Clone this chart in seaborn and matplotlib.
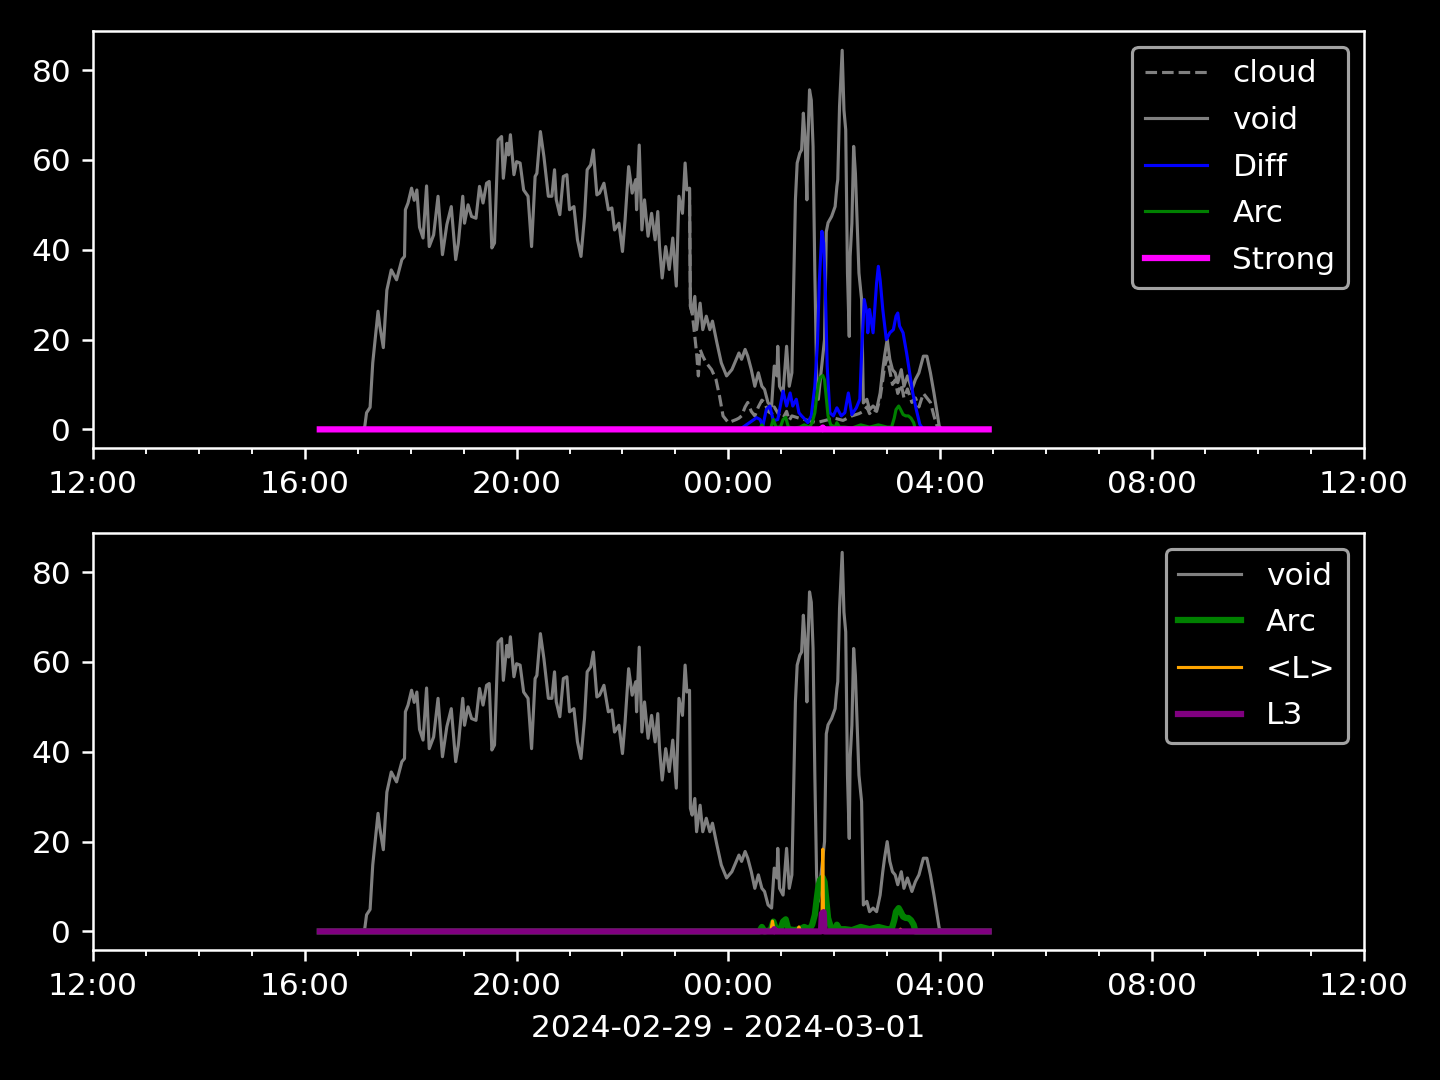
import numpy as np
import pandas as pd
import matplotlib
matplotlib.use("Agg")
import matplotlib.pyplot as plt
import matplotlib.dates as mdates
import seaborn as sns

# ---------------- data (minutes after 2024-02-29 12:00) ----------------
void_min = [257, 306, 308, 310, 314, 317, 323, 325, 329, 333, 338, 344, 350, 353, 354, 357, 361, 364, 367,
            370, 374, 378, 381, 386, 391, 396, 401, 406, 411, 414, 419, 421, 425, 429, 434, 438, 442, 446,
            449, 452, 455, 459, 463, 465, 469, 471, 473, 477, 480, 484, 488, 493, 497, 501, 503, 507, 511,
            516, 520, 523, 525, 529, 533, 537, 540, 545, 549, 553, 557, 560, 564, 567, 571, 574, 579, 584,
            588, 591, 596, 600, 603, 607, 611, 615, 616, 619, 622, 625, 629, 633, 637, 640, 642, 645, 649,
            653, 657, 661, 664, 668, 671, 673, 676, 677, 679, 682, 684, 688, 691, 695, 699, 702, 707, 712,
            718, 724, 729, 732, 735, 739, 742, 746, 750, 754, 758, 761, 765, 769, 772, 775, 776, 778, 782,
            786, 789, 792, 795, 796, 798, 801, 803, 805, 807, 809, 810, 812, 814, 816, 818, 820, 822, 825,
            829, 831, 833, 837, 841, 843, 844, 846, 849, 851, 853, 855, 857, 858, 860, 862, 864, 866, 868, 871,
            873, 877, 880, 884, 888, 892, 895, 897, 900, 903, 906, 909, 912, 916, 919, 923, 928, 932, 936,
            941, 945, 949, 953, 956, 959, 962, 1015]
void_val = [0, 0, 0.7, 3.7, 4.9, 14.8, 26.3, 23, 18.2, 31, 35.5, 33.3, 37.8, 38.5, 48.9, 50.4, 53.7, 51, 53.3,
            45, 42.6, 54.2, 40.7, 43.3, 51.9, 38.9, 45.6, 49.6, 37.8, 41.5, 51.9, 45.9, 50, 47.4, 47, 54.1, 50.4, 54.8,
            55.2, 40.4, 41.5, 64.4, 65.2, 55.9, 63.7, 61.1, 65.6, 56.7, 59.6, 59.3, 53.3, 51.9, 40.7, 56.3, 57, 66.3, 60.7,
            51.9, 51.9, 57.8, 51.1, 47.8, 56.3, 56.7, 48.9, 49.6, 42.2, 38.5, 47.4, 57.8, 58.9, 62.2, 52.2, 52.6, 54.8, 48.9,
            49.3, 44.4, 45.9, 39.6, 46.7, 58.5, 52.6, 55.6, 48.9, 63.3, 44.4, 51.1, 43, 48.1, 42.2, 48.5, 40.7, 33.7, 40.7,
            35.6, 42.6, 31.9, 51.9, 48.1, 59.3, 53.3, 53.7, 27.4, 25.9, 29.6, 22.2, 28.1, 22.2, 25.2, 22.2, 24.1, 19.3, 14.8,
            11.9, 13.3, 15.6, 17, 15.6, 17.8, 16.3, 13.3, 9.6, 12.6, 9.6, 8.9, 5.9, 5.2, 14.1, 11.9, 18.5, 9.6, 8.1,
            18.5, 9.6, 12.6, 42.2, 51.1, 59.3, 61.5, 62.2, 70.4, 64.4, 51.1, 63, 75.6, 73.3, 63, 34.9, 12.6, 6.7, 12.6,
            20, 44, 46, 47.4, 49.6, 54.1, 55.6, 71.9, 84.4, 71.1, 66.7, 34.8, 20.7, 38.5, 45.9, 63, 57, 45.9, 34.8, 28.9,
            5.9, 6.7, 4.4, 5.2, 4.4, 8.1, 13.3, 16.3, 20, 15.6, 13.3, 12.6, 10.4, 13.3, 9.6, 11.9, 8.9, 11.1, 12.6,
            16.3, 16.3, 12.6, 8.1, 4.4, 0.7, 0, 0]

cloud_min = [676, 677, 679, 682, 684, 686, 688, 691, 695, 701, 706, 710, 714, 720, 729, 732, 735, 739, 742,
             746, 750, 754, 758, 761, 765, 769, 772, 775, 778, 782, 786, 789, 792, 800, 810, 820, 830, 840,
             850, 860, 868, 873, 877, 880, 884, 888, 892, 895, 897, 900, 903, 906, 909, 912, 916, 919, 923,
             928, 932, 936, 941, 945, 949, 953, 956, 959, 962, 1015]
cloud_val = [53.7, 27.4, 25.9, 20.7, 17, 11.9, 17.8, 16.3, 14.8, 13.3, 11.1, 7.4, 3, 1.5, 2.2, 2.5, 3, 5, 6,
             4, 3, 5, 6.5, 6, 4, 3.5, 5, 4, 3, 2.5, 4, 2, 3, 2.5, 2, 1.5, 2, 2.5,
             2, 3, 3.5, 4, 5, 3.5, 4.5, 4, 7, 11, 14, 16, 13, 10, 11, 8, 10, 7, 9,
             6, 7, 5, 8, 7, 6, 3, 1, 0.3, 0, 0]

diff_min = [257, 733, 752, 756, 759, 763, 767, 771, 776, 782, 786, 790, 793, 797, 800, 803, 807, 810, 814,
            818, 821, 823, 826, 828, 830, 832, 835, 839, 843, 848, 852, 856, 860, 865, 869, 871, 874, 877,
            878, 880, 884, 888, 890, 892, 895, 899, 903, 907, 910, 912, 914, 918, 922, 926, 929, 933, 937,
            941, 1015]
diff_val = [0, 0, 2.6, 2.2, 0.7, 4.4, 5.2, 1.9, 2.2, 8.5, 5.2, 8.1, 5.2, 6.7, 3.7, 3, 2.2, 1.5, 3,
            9.6, 19.3, 32.6, 44.1, 41.5, 30.4, 14.1, 3.7, 3, 4.8, 3, 3.7, 8.1, 3.3, 4.8, 6.7, 17, 28.9, 25.9,
            21.5, 26.7, 21.5, 32.6, 36.3, 33.3, 26.7, 20, 21.5, 22.2, 25.2, 25.9, 23, 21.5, 17, 11.9, 8.1, 4.4, 1.1,
            0, 0]

arc_min = [257, 755, 758, 761, 768, 771, 774, 779, 782, 785, 788, 795, 801, 806, 812, 815, 818, 820, 822,
           824, 827, 829, 831, 833, 836, 841, 843, 846, 852, 860, 870, 880, 890, 900, 905, 908, 910, 913,
           915, 918, 921, 924, 927, 930, 932, 1015]
arc_val = [0, 0, 1, 0, 0.3, 2.2, 0.5, 0.5, 2.2, 2.7, 0.5, 0.3, 0.5, 1, 0.5, 1.5, 3.7, 7, 10,
           11.5, 12, 11, 7, 3, 1, 0.5, 1.5, 0.5, 0.5, 0.3, 1, 0.5, 1, 0.5, 0.5, 2.5, 4.4, 5.2,
           4.5, 3.3, 3, 3, 2.5, 1.5, 0, 0]

strong_min = [257, 826, 827, 828, 1015]
strong_val = [0, 0, 0.4, 0, 0]

lmean_min = [257, 768, 770, 772, 798, 800, 802, 826, 827, 828, 913, 915, 917, 1015]
lmean_val = [0, 0, 2.3, 0, 0, 1, 0, 0, 18.3, 0, 0, 0.5, 0, 0]

l3_min = [257, 771, 772, 773, 825, 826, 828, 829, 1015]
l3_val = [0, 0, 0.5, 0, 0, 4.0, 4.3, 0, 0]

date_label = "2024-02-29 - 2024-03-01"

# ---------------- plotting ----------------
plt.style.use("dark_background")
fig, (ax1, ax2) = plt.subplots(2, 1, figsize=(6.4, 4.8), dpi=225)
fig.subplots_adjust(left=0.0646, right=0.947, top=0.971, bottom=0.120, hspace=0.204)

base = pd.Timestamp("2024-02-29 12:00")


def t(m):
    return base + pd.to_timedelta(np.array(m), unit="min")


common = dict(estimator=None, sort=False)
sns.lineplot(x=t(cloud_min), y=cloud_val, ax=ax1, color="gray", lw=1, linestyle="--", label="cloud", **common)
sns.lineplot(x=t(void_min), y=void_val, ax=ax1, color="gray", lw=1, label="void", **common)
sns.lineplot(x=t(diff_min), y=diff_val, ax=ax1, color="blue", lw=1, label="Diff", **common)
sns.lineplot(x=t(arc_min), y=arc_val, ax=ax1, color="green", lw=1, label="Arc", **common)
sns.lineplot(x=t(strong_min), y=strong_val, ax=ax1, color="magenta", lw=2, label="Strong", **common)

sns.lineplot(x=t(void_min), y=void_val, ax=ax2, color="gray", lw=1, label="void", **common)
sns.lineplot(x=t(arc_min), y=arc_val, ax=ax2, color="green", lw=2, label="Arc", **common)
sns.lineplot(x=t(lmean_min), y=lmean_val, ax=ax2, color="orange", lw=1, label="<L>", **common)
sns.lineplot(x=t(l3_min), y=l3_val, ax=ax2, color="purple", lw=2, label="L3", **common)

for ax in (ax1, ax2):
    ax.set_xlim(pd.Timestamp("2024-02-29 12:00"), pd.Timestamp("2024-03-01 12:00"))
    ax.xaxis.set_major_locator(mdates.HourLocator(byhour=[0, 4, 8, 12, 16, 20]))
    ax.xaxis.set_major_formatter(mdates.DateFormatter("%H:%M"))
    ax.xaxis.set_minor_locator(mdates.HourLocator())
    ax.set_ylabel("")
    ax.set_xlabel("")
    ax.legend(loc="upper right", labelspacing=0.565)

ax2.set_xlabel(date_label)

fig.savefig("out.png", dpi=225)
